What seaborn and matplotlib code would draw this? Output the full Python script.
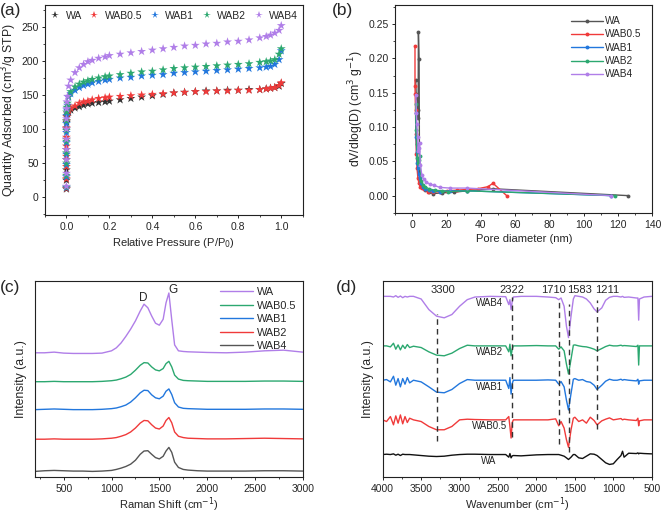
import numpy as np
import pandas as pd
import matplotlib
matplotlib.use("Agg")
import matplotlib.pyplot as plt
from matplotlib.ticker import MultipleLocator
import seaborn as sns

# ---------------- (a) N2 isotherms ----------------
pressure = [0, 0, 0, 0, 0, 0, 0, 0.001, 0.002, 0.005, 0.01, 0.02, 0.04, 0.06, 0.08, 0.10,
            0.12, 0.15, 0.18, 0.20, 0.25, 0.30, 0.35, 0.40, 0.45, 0.50, 0.55, 0.60, 0.65,
            0.70, 0.75, 0.80, 0.85, 0.90, 0.93, 0.95, 0.97, 0.99, 1.00]
iso_WA = [12, 25, 40, 55, 70, 85, 100, 110, 118, 122, 125, 128, 131, 133, 135, 137, 138, 139, 140,
          141, 143, 145, 147, 149, 151, 153, 154, 155, 156, 156, 157, 157, 158, 158, 159, 160, 161, 163, 167]
iso_WAB05 = [13, 27, 45, 60, 75, 88, 102, 112, 118, 124, 127, 131, 134, 138, 140, 141, 143, 145, 146,
             147, 148, 149, 150, 151, 152, 153, 154, 155, 155, 156, 156, 157, 157, 158, 159, 160, 161, 164, 168]
iso_WAB1 = [14, 30, 48, 63, 80, 95, 108, 120, 128, 135, 147, 152, 157, 161, 164, 166, 168, 170, 172,
            173, 175, 176, 178, 179, 180, 182, 183, 184, 185, 186, 187, 188, 189, 190, 191, 192, 195, 202, 215]
iso_WAB2 = [15, 32, 50, 65, 82, 98, 112, 125, 132, 138, 148, 155, 162, 166, 169, 171, 173, 175, 177,
            178, 180, 182, 184, 185, 187, 189, 190, 191, 192, 193, 194, 195, 196, 198, 199, 200, 202, 210, 218]
iso_WAB4 = [16, 35, 55, 70, 85, 100, 115, 130, 140, 148, 163, 172, 183, 190, 195, 199, 201, 204, 206,
            208, 210, 212, 214, 216, 218, 220, 222, 223, 225, 226, 228, 229, 231, 234, 236, 238, 241, 245, 252]

# ---------------- (b) pore size distribution ----------------
pd_WA_x = [1.9, 2.2, 2.6, 3.0, 3.3, 3.5, 3.9, 4.1, 4.4, 5.0, 6.0, 7.5, 9.5, 12, 17, 24, 32, 47, 126]
pd_WA_y = [0.168, 0.148, 0.142, 0.125, 0.113, 0.238, 0.199, 0.046, 0.019, 0.015, 0.012, 0.008,
           0.005, 0.003, 0.004, 0.005, 0.007, 0.010, 0.000]
pd_WAB05_x = [1.5, 1.5, 1.6, 1.8, 2.0, 2.3, 2.7, 3.2, 3.8, 4.5, 5.5, 7, 9, 12, 16, 20, 26, 32, 38, 44, 47, 55]
pd_WAB05_y = [0.218, 0.160, 0.148, 0.125, 0.090, 0.060, 0.040, 0.025, 0.018, 0.013, 0.011, 0.009,
              0.006, 0.005, 0.006, 0.007, 0.008, 0.009, 0.010, 0.013, 0.018, 0.000]
pd_WAB1_x = [2.0, 2.2, 2.5, 2.8, 3.2, 3.6, 4.2, 5.0, 6.0, 7.5, 9.5, 12, 16, 22, 32, 116]
pd_WAB1_y = [0.120, 0.085, 0.063, 0.048, 0.040, 0.032, 0.025, 0.018, 0.013, 0.010, 0.008, 0.007,
             0.006, 0.007, 0.007, 0.000]
pd_WAB2_x = [1.9, 2.2, 2.5, 2.9, 3.3, 3.8, 4.4, 5.0, 6.0, 7.5, 9.5, 13, 17, 21, 32, 118]
pd_WAB2_y = [0.133, 0.095, 0.075, 0.055, 0.048, 0.052, 0.058, 0.022, 0.016, 0.013, 0.010, 0.008,
             0.007, 0.006, 0.007, 0.000]
pd_WAB4_x = [2.0, 2.3, 2.6, 3.0, 3.4, 3.8, 4.2, 4.6, 5.5, 6.5, 8, 10, 12.5, 16, 22, 32, 116]
pd_WAB4_y = [0.147, 0.120, 0.105, 0.085, 0.065, 0.070, 0.076, 0.045, 0.030, 0.024, 0.020, 0.017,
             0.015, 0.012, 0.011, 0.011, 0.000]

# ---------------- (c) Raman (intensity above each trace's baseline) ----------------
raman_shift = [200, 300, 400, 500, 600, 700, 800, 900, 1000, 1050, 1100, 1150, 1200, 1250, 1300,
               1340, 1380, 1420, 1460, 1500, 1540, 1570, 1600, 1630, 1660, 1700, 1750, 1800, 1900,
               2000, 2200, 2400, 2600, 2800, 3000]
raman_WA = [0, 0, 2, -1, -2, -2, -2, -1, 6, 15, 30, 50, 72, 97, 127, 148, 137, 112, 90, 84, 102,
            152, 182, 100, 24, 6, 4, 3, 2, 1, 0, 2, 6, 8, 2]
raman_WAB05 = [0, 0, 1, 0, 0, 0, 0, 1, 3, 5, 9, 14, 22, 35, 50, 58, 57, 45, 36, 33, 40, 55, 62,
               45, 20, 8, 4, 3, 2, 1, 1, 1, 2, 2, 1]
raman_WAB1 = [0, 1, 2, 1, 0, 0, 0, 1, 3, 5, 9, 14, 23, 36, 51, 59, 58, 45, 36, 33, 41, 56, 63,
              46, 21, 8, 4, 3, 2, 1, 1, 1, 2, 2, 1]
raman_WAB2 = [0, 0, 1, 0, 0, 0, 0, 1, 3, 5, 9, 14, 22, 34, 49, 57, 56, 44, 34, 31, 40, 57, 66,
              50, 22, 9, 5, 3, 2, 1, 1, 2, 3, 2, 1]
raman_WAB4 = [0, 2, 3, 2, 1, 1, 0, 1, 3, 6, 10, 15, 22, 34, 52, 62, 63, 52, 42, 38, 46, 62, 73,
              58, 28, 12, 6, 4, 2, 1, 1, 1, 2, 2, 1]
raman_offsets = [378, 290, 205, 115, 17]

# ---------------- (d) FTIR (transmittance relative to baseline) ----------------
wavenumber = [4000, 3950, 3900, 3860, 3830, 3800, 3770, 3740, 3710, 3680, 3650, 3600, 3500, 3400,
              3300, 3200, 3100, 3000, 2900, 2800, 2600, 2400, 2360, 2345, 2330, 2315, 2300, 2200,
              2000, 1850, 1750, 1710, 1680, 1640, 1610, 1583, 1550, 1520, 1500, 1450, 1400, 1350,
              1300, 1250, 1211, 1150, 1100, 1050, 1000, 950, 900, 880, 860, 800, 700, 680, 670,
              660, 600, 500]
ir_WAB4 = [0, 0, 0, -2, 2, -3, 1, -4, 0, -2, 0, 0, -8, -40, -60, -65, -55, -30, -10, -2, 0, -1,
           -25, -10, -40, -15, -2, 0, 0, -2, -4, -10, -5, -30, -90, -125, -60, -8, 2, 0, -2, -8,
           -20, -38, -47, -35, -12, -3, 0, 0, -2, 0, -3, -2, -5, -5, -72, -8, -2, 0]
ir_WAB2 = [0, 0, -3, 8, -10, 3, -12, 2, -8, 4, -5, -1, -5, -18, -28, -30, -22, -8, 2, 0, 0, 0,
           -18, 5, -30, -10, 0, 0, 1, 0, 0, -10, -3, -15, -55, -85, -40, 2, 3, 0, -2, -3, -6,
           -10, -15, -8, -2, 2, 0, 0, 2, 0, 1, 0, -2, 2, -58, 0, 0, 0]
ir_WAB1 = [0, 2, -5, 12, -15, 5, -20, 5, -12, 8, -8, 0, -5, -20, -36, -38, -28, -10, 2, 0, 0, 0,
           -25, 8, -42, -10, 0, 0, 0, 1, 0, -12, -4, -20, -60, -90, -40, 3, 5, 0, 2, -4, -6,
           -15, -28, -15, -3, 3, 0, 0, 3, 0, 2, 0, -2, 3, -12, -2, 0, 0]
ir_WAB05 = [0, -5, 10, -15, 12, -10, 15, -12, 10, -8, 5, 0, -5, -20, -30, -30, -20, 0, 2, 1, 0, 0,
            10, -20, -55, -8, 0, 0, 0, 0, 3, -18, -5, -25, -60, -83, -30, 5, 8, -5, 0, -10, 8,
            -2, -15, -3, 2, 6, 0, 2, 4, 0, 2, 0, -2, 5, -18, -3, 0, 0]
ir_WA = [0, 1, 0, 2, -2, 1, -3, 1, 0, 0, 0, -1, -3, -5, -6, -5, -2, 0, 1, 1, 0, 0, -8, 3, -10,
         -4, -3, -4, -1, 0, 0, 0, -2, -5, -10, -15, -8, 0, 0, -10, -12, -5, 2, 1, -3, -15, -25,
         -30, -28, -15, -3, 10, -8, 4, 3, 5, 2, 4, 3, 2]
ir_offsets = [547, 397, 293, 173, 68]
ir_labels = ["WAB4", "WAB2", "WAB1", "WAB0.5", "WA"]
ir_peaks = [3300, 2322, 1710, 1583, 1211]
ir_peak_top = [495, 545, 535, 525, 535]
ir_peak_bottom = [110, 120, 100, 75, 145]
ir_peak_label_x = [3218, 2313, 1774, 1435, 1078]

samples = ["WA", "WAB0.5", "WAB1", "WAB2", "WAB4"]

# ---------------- styling ----------------
sns.set_style("ticks")
plt.rcParams["font.family"] = ["Liberation Sans", "DejaVu Sans"]
plt.rcParams["axes.linewidth"] = 0.8
plt.rcParams["xtick.major.size"] = 2.5
plt.rcParams["ytick.major.size"] = 2.5
plt.rcParams["xtick.minor.size"] = 1.5
plt.rcParams["ytick.minor.size"] = 1.5
plt.rcParams["xtick.major.pad"] = 2.5
plt.rcParams["ytick.major.pad"] = 2
plt.rcParams["xtick.major.width"] = 0.7
plt.rcParams["ytick.major.width"] = 0.7
plt.rcParams["xtick.minor.width"] = 0.6
plt.rcParams["ytick.minor.width"] = 0.6
plt.rcParams["xtick.labelsize"] = 7.5
plt.rcParams["ytick.labelsize"] = 7.5
plt.rcParams["axes.labelsize"] = 8

c_black = "#333333"
c_gray = "#555555"
c_red = "#f03a3a"
c_blue = "#2277dd"
c_green = "#2ca870"
c_purple = "#b07ee8"

fig = plt.figure(figsize=(6.61, 5.14), dpi=100)
ax_a = fig.add_axes([0.068, 0.582, 0.390, 0.408])
ax_b = fig.add_axes([0.598, 0.586, 0.389, 0.404])
ax_c = fig.add_axes([0.053, 0.072, 0.405, 0.381])
ax_d = fig.add_axes([0.579, 0.072, 0.407, 0.381])

# ---- (a)
iso_series = [iso_WA, iso_WAB05, iso_WAB1, iso_WAB2, iso_WAB4]
df_a = pd.concat([pd.DataFrame({"P": pressure, "Q": s, "sample": n})
                  for n, s in zip(samples, iso_series)], ignore_index=True)
pal_a = dict(zip(samples, [c_black, c_red, c_blue, c_green, c_purple]))
sns.scatterplot(data=df_a, x="P", y="Q", hue="sample", hue_order=samples, palette=pal_a,
                marker="*", s=45, linewidth=0, ax=ax_a, zorder=3)
ax_a.set_xlim(-0.1, 1.1)
ax_a.set_ylim(-26, 282)
ax_a.xaxis.set_major_locator(MultipleLocator(0.2))
ax_a.xaxis.set_minor_locator(MultipleLocator(0.1))
ax_a.yaxis.set_major_locator(MultipleLocator(50))
ax_a.yaxis.set_minor_locator(MultipleLocator(25))
ax_a.set_xlabel("Relative Pressure (P/P$_0$)", labelpad=3)
ax_a.set_ylabel("Quantity Adsorbed (cm$^3$/g STP)", labelpad=2, fontsize=8.8)
h, l = ax_a.get_legend_handles_labels()
ax_a.legend(h, l, loc="upper center", ncol=5, frameon=False, fontsize=7.5,
            handlelength=1.0, handletextpad=0.5, columnspacing=0.7, borderaxespad=0.15,
            markerscale=0.8)

# ---- (b)
pd_x = [pd_WA_x, pd_WAB05_x, pd_WAB1_x, pd_WAB2_x, pd_WAB4_x]
pd_y = [pd_WA_y, pd_WAB05_y, pd_WAB1_y, pd_WAB2_y, pd_WAB4_y]
df_b = pd.concat([pd.DataFrame({"D": x, "V": y, "sample": n})
                  for n, x, y in zip(samples, pd_x, pd_y)], ignore_index=True)
pal_b = dict(zip(samples, [c_gray, c_red, c_blue, c_green, c_purple]))
sns.lineplot(data=df_b, x="D", y="V", hue="sample", hue_order=samples, palette=pal_b,
             sort=False, estimator=None, marker="o", markersize=2.8, markeredgewidth=0,
             linewidth=1.0, ax=ax_b)
ax_b.set_xlim(-10, 140)
ax_b.set_ylim(-0.025, 0.2775)
ax_b.xaxis.set_major_locator(MultipleLocator(20))
ax_b.xaxis.set_minor_locator(MultipleLocator(10))
ax_b.yaxis.set_major_locator(MultipleLocator(0.05))
ax_b.yaxis.set_minor_locator(MultipleLocator(0.025))
ax_b.yaxis.set_major_formatter(matplotlib.ticker.FormatStrFormatter("%.2f"))
ax_b.set_xlabel("Pore diameter (nm)", labelpad=3)
ax_b.set_ylabel("dV/dlog(D) (cm$^3$ g$^{-1}$)", labelpad=2, fontsize=8.8)
h, l = ax_b.get_legend_handles_labels()
ax_b.legend(h, l, loc="upper right", frameon=False, fontsize=7.2, handlelength=3.2,
            handletextpad=0.2, labelspacing=0.33, borderaxespad=0.7)

# ---- (c)
raman_series = [raman_WA, raman_WAB05, raman_WAB1, raman_WAB2, raman_WAB4]
df_c = pd.concat([pd.DataFrame({"shift": raman_shift, "I": np.array(s) + off, "sample": n})
                  for n, s, off in zip(samples, raman_series, raman_offsets)], ignore_index=True)
pal_c = dict(zip(samples, [c_purple, c_green, c_blue, c_red, c_gray]))
sns.lineplot(data=df_c, x="shift", y="I", hue="sample", hue_order=samples, palette=pal_c,
             sort=False, estimator=None, linewidth=1.0, ax=ax_c)
ax_c.set_xlim(200, 3000)
ax_c.set_ylim(0, 596)
ax_c.set_yticks([])
ax_c.xaxis.set_major_locator(MultipleLocator(500))
ax_c.xaxis.set_minor_locator(MultipleLocator(250))
ax_c.set_xlabel("Raman Shift (cm$^{-1}$)", labelpad=1)
ax_c.set_ylabel("Intensity (a.u.)", labelpad=6, fontsize=8.8)
ax_c.text(1329, 546, "D", fontsize=8.5, ha="center", va="center")
ax_c.text(1644, 568, "G", fontsize=8.5, ha="center", va="center")
h, l = ax_c.get_legend_handles_labels()
ax_c.legend(h, l, loc="upper right", frameon=False, fontsize=7.8, handlelength=3.0,
            handletextpad=0.4, labelspacing=0.32, borderaxespad=0.15)

# ---- (d)
ir_series = [ir_WAB4, ir_WAB2, ir_WAB1, ir_WAB05, ir_WA]
df_d = pd.concat([pd.DataFrame({"wn": wavenumber, "T": np.array(s) + off, "sample": n})
                  for n, s, off in zip(ir_labels, ir_series, ir_offsets)], ignore_index=True)
pal_d = dict(zip(ir_labels, [c_purple, c_green, c_blue, c_red, "#111111"]))
sns.lineplot(data=df_d, x="wn", y="T", hue="sample", hue_order=ir_labels, palette=pal_d,
             sort=False, estimator=None, linewidth=1.0, ax=ax_d, legend=False)
for pk, top, bot, lx in zip(ir_peaks, ir_peak_top, ir_peak_bottom, ir_peak_label_x):
    ax_d.plot([pk, pk], [bot, top], ls=(0, (4, 3)), color="#333333", lw=1.0)
    ax_d.text(lx, 567, str(pk), fontsize=8, ha="center", va="center")
for lab, off in zip(ir_labels, ir_offsets):
    ax_d.text(2616, off - 20, lab, fontsize=7, ha="center", va="center", color="#222222")
ax_d.set_xlim(4000, 500)
ax_d.set_ylim(0, 593)
ax_d.set_yticks([])
ax_d.xaxis.set_major_locator(MultipleLocator(500))
ax_d.xaxis.set_minor_locator(MultipleLocator(250))
ax_d.set_xlabel("Wavenumber (cm$^{-1}$)", labelpad=1)
ax_d.set_ylabel("Intensity (a.u.)", labelpad=6, fontsize=8.8)

for ax in [ax_a, ax_b, ax_c, ax_d]:
    ax.tick_params(which="both", direction="out", top=False, right=False)
    for sp in ax.spines.values():
        sp.set_color("#222222")

fig.text(0.0, 0.995, "(a)", fontsize=12.5, va="top", ha="left")
fig.text(0.502, 0.995, "(b)", fontsize=12.5, va="top", ha="left")
fig.text(0.0, 0.455, "(c)", fontsize=12.5, va="top", ha="left")
fig.text(0.508, 0.455, "(d)", fontsize=12.5, va="top", ha="left")

fig.savefig("out.png", dpi=100)
